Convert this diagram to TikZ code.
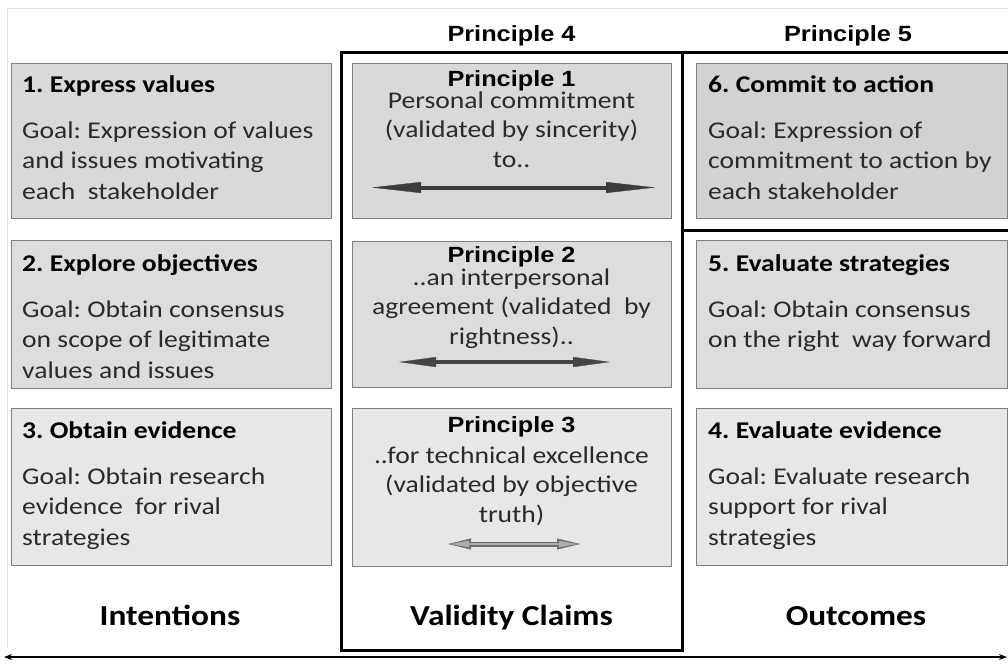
\documentclass[tikz,border=0pt]{standalone}
\usepackage{fontspec}
\setmainfont[FakeStretch=1.15]{Carlito}
\newfontfamily\arialfont[FakeStretch=1.15]{Liberation Sans}
\usetikzlibrary{arrows.meta,calc}
\frenchspacing
\definecolor{boxline}{HTML}{7F7F7F}
\definecolor{fA}{HTML}{D9D9D9}
\definecolor{fB}{HTML}{DDDDDD}
\definecolor{fC}{HTML}{E7E7E7}
\definecolor{fR}{HTML}{D2D2D2}
\definecolor{bodytxt}{HTML}{2A2A2A}
\definecolor{faint}{HTML}{E4E4E4}
\definecolor{arrdark}{HTML}{3C3C3C}
\definecolor{arrmid}{HTML}{454545}
\definecolor{arrout}{HTML}{6E6E6E}
\definecolor{arrin}{HTML}{ADADAD}
\newcommand\goalpar[1]{\parbox[t]{300pt}{\fontsize{24}{30.5}\selectfont\raggedright #1}}
\newcommand\midpar[1]{\parbox[t]{310pt}{\fontsize{24}{29.8}\selectfont\centering #1}}
\begin{document}
\begin{tikzpicture}[x=1pt,y=-1pt,
  box/.style={draw=boxline, line width=1.4pt, anchor=north west, inner sep=0pt},
  frame/.style={draw=black, line width=3pt},
  title/.style={anchor=base west, inner sep=0pt, font=\fontsize{24}{30}\selectfont\bfseries},
  body/.style={anchor=base west, inner sep=0pt, text=bodytxt},
  midbody/.style={anchor=base, inner sep=0pt, text=bodytxt},
  princ/.style={anchor=base, inner sep=0pt, font=\arialfont\bfseries\fontsize{22}{26}\selectfont},
  colhead/.style={anchor=base, inner sep=0pt, font=\fontsize{29}{34}\selectfont\bfseries}]
\useasboundingbox (0,0) rectangle (1008,667);
% faint outer frame
\draw[faint, line width=1pt] (7,648) -- (7,8) -- (1008,8);
% boxes
\node[box, fill=fA, minimum width=320pt, minimum height=155pt] (L1) at (11,63) {};
\node[box, fill=fB, minimum width=320pt, minimum height=148pt] (L2) at (11,240) {};
\node[box, fill=fC, minimum width=320pt, minimum height=157pt] (L3) at (11,408) {};
\node[box, fill=fA, minimum width=319pt, minimum height=155pt] (M1) at (352,63) {};
\node[box, fill=fB, minimum width=319pt, minimum height=146pt] (M2) at (352,241) {};
\node[box, fill=fC, minimum width=319pt, minimum height=158pt] (M3) at (352,408) {};
\node[box, fill=fR, minimum width=311pt, minimum height=155pt] (R1) at (696,63) {};
\node[box, fill=fB, minimum width=311pt, minimum height=148pt] (R2) at (696,240) {};
\node[box, fill=fC, minimum width=311pt, minimum height=157pt] (R3) at (696,408) {};
% thick frames
\coordinate (vtl) at (341,52);
\coordinate (vbr) at (682,650);
\draw[frame] (vtl) rectangle (vbr);
\coordinate (p5a) at (682,52);
\coordinate (p5b) at (1010,52);
\coordinate (p5c) at (682,230);
\coordinate (p5d) at (1010,230);
\draw[frame] (p5a) -- (p5b);
\draw[frame] (p5c) -- (p5d);
% headers
\node[princ] (h4) at (511.5,41) {Principle 4};
\node[princ] (h5) at (848,41) {Principle 5};
% left column
\node[title] (t1) at (22,92) {1. Express values};
\node[body] (g1) at (22,138) {\goalpar{Goal: Expression of values\\and issues motivating\\each~ stakeholder}};
\node[title] (t2) at (22,271) {2. Explore objectives};
\node[body] (g2) at (22,317) {\goalpar{Goal: Obtain consensus\\on scope of legitimate\\values and issues}};
\node[title] (t3) at (22,438) {3. Obtain evidence};
\node[body] (g3) at (22,484) {\goalpar{Goal: Obtain research\\evidence~ for rival\\strategies}};
% right column
\node[title] (t6) at (708,92) {6. Commit to action};
\node[body] (g6) at (708,138) {\goalpar{Goal: Expression of\\commitment to action by\\each stakeholder}};
\node[title] (t5) at (708,271) {5. Evaluate strategies};
\node[body] (g5) at (708,317) {\goalpar{Goal: Obtain consensus\\on the right~ way forward}};
\node[title] (t4) at (708,438) {4. Evaluate evidence};
\node[body] (g4) at (708,484) {\goalpar{Goal: Evaluate research\\support for rival\\strategies}};
% middle column
\node[princ] (pr1) at (511.5,86) {Principle 1};
\node[midbody] (m1) at (511.5,108) {\midpar{Personal commitment\\(validated by sincerity)\\to..}};
\node[princ] (pr2) at (511.5,262) {Principle 2};
\node[midbody] (m2) at (511.5,285) {\midpar{..an interpersonal\\agreement (validated~ by\\rightness)..}};
\node[princ] (pr3) at (511.5,432) {Principle 3};
\node[midbody] (m3) at (511.5,463) {\midpar{..for technical excellence\\(validated by objective\\truth)}};
% double arrows in middle boxes
\coordinate (a1l) at (372,187.5);
\coordinate (a1r) at (655,187.5);
\draw[arrdark, line width=4pt, {Triangle[length=49pt,width=11pt,line width=0.3pt]}-{Triangle[length=49pt,width=11pt,line width=0.3pt]}] (a1l) -- (a1r);
\coordinate (a2l) at (399,362);
\coordinate (a2r) at (610,362);
\draw[arrmid, line width=4pt, {Triangle[length=37pt,width=10pt,line width=0.3pt]}-{Triangle[length=37pt,width=10pt,line width=0.3pt]}] (a2l) -- (a2r);
\coordinate (a3l) at (448,544);
\coordinate (a3r) at (580,544);
\coordinate (a3li) at (451,544);
\coordinate (a3ri) at (577,544);
\draw[arrout, line width=5pt, {Triangle[length=23pt,width=11pt,line width=0.3pt]}-{Triangle[length=23pt,width=11pt,line width=0.3pt]}] (a3l) -- (a3r);
\draw[arrin, line width=2pt, {Triangle[length=18pt,width=6.5pt,line width=0.3pt]}-{Triangle[length=18pt,width=6.5pt,line width=0.3pt]}] (a3li) -- (a3ri);
% column labels
\node[colhead] (c1) at (170,625) {Intentions};
\node[colhead] (c2) at (511.5,625) {Validity Claims};
\node[colhead] (c3) at (856,625) {Outcomes};
% bottom axis arrow
\coordinate (axl) at (4,657);
\coordinate (axr) at (1007,657);
\draw[black, line width=1.3pt, {Stealth[length=8pt,width=6pt]}-{Stealth[length=8pt,width=6pt]}] (axl) -- (axr);
\end{tikzpicture}
\end{document}
